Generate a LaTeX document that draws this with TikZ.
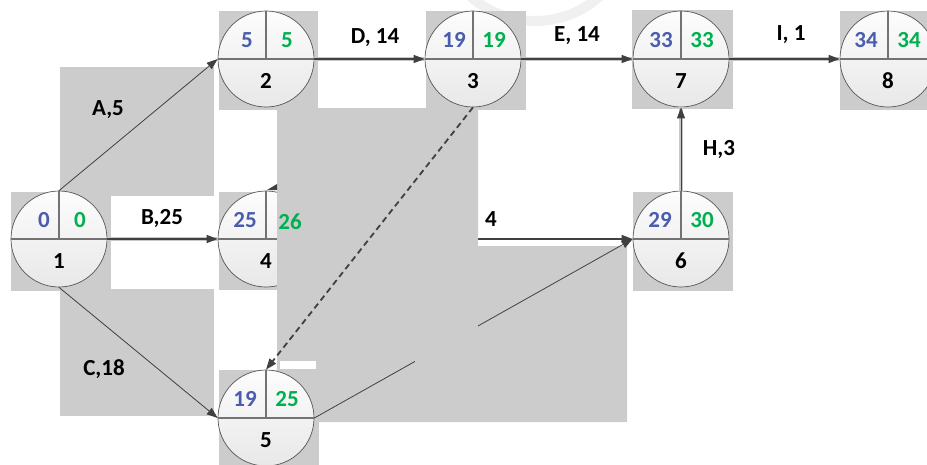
\documentclass[tikz,border=0pt]{standalone}
\usepackage{fontspec}
\setmainfont{Carlito}
\usetikzlibrary{arrows.meta,calc}

\definecolor{mask}{HTML}{CCCCCC}
\definecolor{early}{HTML}{4A5CAD}
\definecolor{late}{HTML}{00B050}
\definecolor{wire}{HTML}{404040}
\definecolor{rim}{HTML}{555555}
\definecolor{halo}{HTML}{C8C8C8}

\newcommand\bigbold{\fontsize{23}{25}\selectfont\bfseries}

\tikzset{
  maskfill/.style={fill=mask, draw=none},
  event/.style={circle, minimum size=96pt, inner sep=0pt, draw=rim, line width=0.7pt,
    top color=black!1, bottom color=black!9},
  divider/.style={draw=black!55, line width=1.6pt},
  estime/.style={font=\bigbold, text=early, inner sep=0pt},
  lstime/.style={font=\bigbold, text=late, inner sep=0pt},
  evid/.style={font=\bigbold, text=black, inner sep=0pt},
  actlabel/.style={font=\bigbold, text=black, inner sep=0pt},
  tip/.style={-{Triangle[length=11pt,width=8pt]}},
  haloline/.style={draw=halo, line width=4pt},
  major/.style={draw=wire, line width=1.3pt, tip},
  minor/.style={draw=wire, line width=0.8pt, tip},
  dummy/.style={draw=wire, line width=1.8pt, dash pattern=on 6pt off 4pt, tip},
}

% text of an event: earliest time, latest time, event number
\newcommand\evtext[5]{%
  \node[estime] (#1es) at ($(#1)+(#5,-19)$) {#2};
  \node[lstime] (#1ls) at ($(#1)+(21,-19)$) {#3};
  \node[evid]   (#1id) at ($(#1)+(0,22)$) {#4};}
\newcommand\evlines[1]{%
  \draw[divider] (#1.west) -- (#1.east);
  \draw[divider] (#1.north) -- (#1.center);}

\begin{document}
\begin{tikzpicture}[x=1pt,y=-1pt]
\useasboundingbox (0,0) rectangle (927,464);

% faint watermark stroke
\draw[black!6, line width=10pt] (468,-6) .. controls (505,30) and (565,30) .. (602,-6);

% grey backing panels
\fill[maskfill] (60,67) rectangle (214,196);
\fill[maskfill] (60,289) rectangle (214,416);
\fill[maskfill] (11,192) rectangle (111,291);
\fill[maskfill] (219,11) rectangle (318,110);
\fill[maskfill] (426,11) rectangle (526,110);
\fill[maskfill] (632,10) rectangle (733,109);
\fill[maskfill] (840,11) rectangle (940,110);
\fill[maskfill] (633,192) rectangle (733,291);
\fill[maskfill] (219,192) rectangle (320,290);
\fill[maskfill] (219,370) rectangle (319,470);

% events
\node[event] (n1) at (59,239) {};
\node[event] (n2) at (266,59) {};
\node[event] (n3) at (473,59) {};
\node[event] (n7) at (681,59) {};
\node[event] (n8) at (888,59) {};
\node[event] (n6) at (681,239) {};
\node[event] (n4) at (266,239) {};
\foreach \n in {n1,n2,n3,n7,n8,n6,n4} {\evlines{\n}}

\evtext{n1}{0}{0}{1}{-15}
\evtext{n2}{5}{5}{2}{-19}
\evtext{n3}{19}{19}{3}{-19}
\evtext{n7}{33}{33}{7}{-20}
\evtext{n8}{34}{34}{8}{-22}
\evtext{n6}{29}{30}{6}{-21}
\node[estime] (n4es) at ($(n4)+(-21,-19)$) {25};
\node[evid]   (n4id) at ($(n4)+(0,22)$) {4};

% activities
\foreach \a/\b in {n1/n4, n2/n3, n3/n7, n7/n8, n6/n7} {\draw[haloline] (\a) -- (\b);}
\draw[minor] (n1.north) -- (n2.west);
\draw[major] (n1.east) -- (n4.west);
\draw[major] (n2.east) -- (n3.west);
\draw[major] (n3.east) -- (n7.west);
\draw[major] (n7.east) -- (n8.west);
\draw[minor, line width=1pt] (n6.north) -- (n7.south);
\draw[major] (n4.east) -- (n6.west);

% covering panel over the middle of the network
\fill[maskfill] (277,108) -- (478,108) -- (478,246) -- (627,246) -- (627,422) -- (277,422) -- cycle;
\fill[wire] (267,190) -- (277,184) -- (277,190) -- cycle;

\node[event] (n5) at (266,418) {};
\evlines{n5}
\evtext{n5}{19}{25}{5}{-21}
\draw[minor] (n1.south) -- (n5.west);
\draw[minor] (n5.east) -- (n6.west);
\fill[maskfill] (415,300) rectangle (478,400);
\fill[white] (280,361) rectangle (316,369);
\draw[dummy] (n3.south) -- (n5.north);

\node[lstime] (n4ls) at ($(n4)+(24,-17)$) {26};

% activity labels
\node[actlabel] (la) at (108,110) {A,5};
\node[actlabel] (lb) at (162,219) {B,25};
\node[actlabel] (lc) at (104,369) {C,18};
\node[actlabel] (ld) at (375,38) {D, 14};
\node[actlabel] (le) at (577,36) {E, 14};
\node[actlabel] (li) at (791,35) {I, 1};
\node[actlabel] (lh) at (719,150) {H,3};
\node[actlabel] (lf) at (491,219) {4};
\end{tikzpicture}
\end{document}
